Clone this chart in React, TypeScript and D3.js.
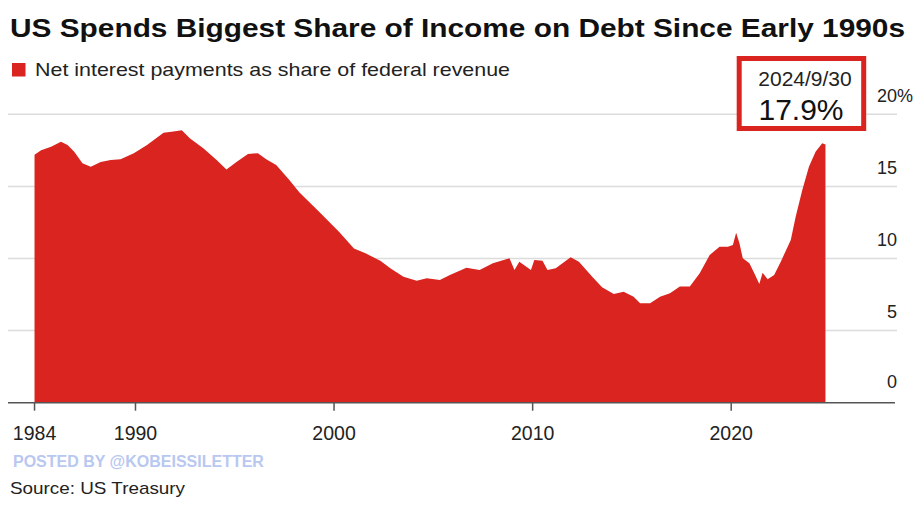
import React from 'react';
import * as d3 from 'd3';

// Net interest payments as share of federal revenue (%)
const months: string[] = [
  '1984-12', '1985-04', '1985-10', '1986-04', '1986-08', '1986-12', '1987-05', '1987-10',
  '1988-04', '1988-10', '1989-04', '1989-12', '1990-08', '1991-06', '1991-12', '1992-05',
  '1992-10', '1993-06', '1994-02', '1994-08', '1995-02', '1995-09', '1996-03', '1996-08',
  '1997-02', '1997-10', '1998-04', '1999-04', '2000-04', '2001-01', '2001-08', '2002-05',
  '2002-11', '2003-07', '2004-03', '2004-09', '2005-05', '2005-11', '2006-09', '2007-05',
  '2008-01', '2008-11', '2009-02', '2009-05', '2009-12', '2010-02', '2010-07', '2010-10',
  '2011-03', '2011-12', '2012-05', '2013-01', '2013-07', '2014-02', '2014-08', '2015-02',
  '2015-06', '2015-12', '2016-06', '2016-12', '2017-06', '2017-12', '2018-06', '2018-12',
  '2019-06', '2019-11', '2020-02', '2020-04', '2020-06', '2020-08', '2020-12', '2021-03',
  '2021-06', '2021-08', '2021-11', '2022-03', '2022-07', '2023-01', '2023-04', '2023-08',
  '2023-12', '2024-04', '2024-08', '2024-09',
];

const shares: number[] = [
  17.2, 17.5, 17.75, 18.1, 17.87, 17.4, 16.6, 16.37,
  16.7, 16.83, 16.88, 17.3, 17.87, 18.72, 18.8, 18.9,
  18.33, 17.64, 16.83, 16.18, 16.7, 17.25, 17.3, 16.88,
  16.48, 15.44, 14.6, 13.25, 11.86, 10.7, 10.36, 9.85,
  9.32, 8.74, 8.46, 8.63, 8.51, 8.86, 9.36, 9.2,
  9.67, 10.01, 9.2, 9.78, 9.2, 9.9, 9.85, 9.2,
  9.32, 10.08, 9.78, 8.74, 8.0, 7.54, 7.7, 7.35,
  6.89, 6.89, 7.35, 7.59, 8.05, 8.05, 8.97, 10.24,
  10.82, 10.82, 10.94, 11.79, 11.05, 10.01, 9.67, 8.97,
  8.23, 9.02, 8.56, 8.86, 9.78, 11.28, 12.9, 14.75,
  16.37, 17.41, 17.99, 17.9,
];

const yTicks: number[] = [0, 5, 10, 15, 20];
const xTickYears: string[] = ['1984', '1990', '2000', '2010', '2020'];

const title = 'US Spends Biggest Share of Income on Debt Since Early 1990s';
const legendLabel = 'Net interest payments as share of federal revenue';
const lastLabelDate = '2024/9/30';
const lastLabelValue = '17.9%';

const RED = '#d9241f';

export default function App() {
  const width = 919;
  const height = 505;
  const parse = d3.timeParse('%Y-%m')!;
  const data = months.map((m, i) => ({ date: parse(m) as Date, value: shares[i] }));
  // last point is the end of September
  data[data.length - 1].date = new Date(2024, 8, 30);

  const x = d3.scaleTime()
    .domain([new Date(1983, 7, 1), new Date(2028, 3, 1)])
    .range([8, 895]);
  const y = d3.scaleLinear().domain([0, 20]).range([402.7, 114.3]);

  const area = d3.area<{ date: Date; value: number }>()
    .x(d => x(d.date))
    .y0(y(0))
    .y1(d => y(d.value));

  // first tick sits on the start of the series, others on Jan 1
  const tickDates = xTickYears.map((yr, i) => (i === 0 ? data[0].date : new Date(+yr, 0, 1)));

  const font = '"Liberation Sans", Arial, Helvetica, sans-serif';

  return (
    <svg width={width} height={height} style={{ position: 'absolute', left: 0, top: 0, background: '#fff' }}
      fontFamily={font}>
      <rect width={width} height={height} fill="#fff" />
      <text x={10} y={36.5} fontSize={25.5} fontWeight="bold" fill="#111"
        textLength={895} lengthAdjust="spacingAndGlyphs">{title}</text>

      <rect x={12} y={63} width={13.5} height={13.5} fill={RED} />
      <text x={35} y={76} fontSize={18.5} fill="#222"
        textLength={475} lengthAdjust="spacingAndGlyphs">{legendLabel}</text>

      {yTicks.filter(t => t > 0).map(t => (
        <line key={t} x1={8} x2={897} y1={y(t)} y2={y(t)} stroke="#dcdcdc" strokeWidth={1.5} />
      ))}

      <path d={area(data) || ''} fill={RED} />

      <line x1={8} x2={895} y1={y(0)} y2={y(0)} stroke="#555" strokeWidth={1.5} />
      {tickDates.map((d, i) => (
        <g key={xTickYears[i]} transform={`translate(${x(d)},0)`}>
          <line y1={y(0)} y2={y(0) + 8} stroke="#555" strokeWidth={1.5} />
          <text y={440} textAnchor="middle" fontSize={19.5} fill="#222">{xTickYears[i]}</text>
        </g>
      ))}

      {yTicks.map(t => (
        <g key={t}>
          <text x={897} y={y(t) - (t === 0 ? 14.5 : 12.7)} textAnchor="end" fontSize={18} fill="#222">{t}</text>
          {t === 20 && (
            <text x={897} y={y(t) - 12.7} fontSize={18} fill="#222">%</text>
          )}
        </g>
      ))}

      <rect x={739.2} y={58.5} width={124.5} height={70} fill="#fff" stroke={RED} strokeWidth={5} />
      <text x={805} y={86} textAnchor="middle" fontSize={21} fill="#222">{lastLabelDate}</text>
      <text x={801} y={120} textAnchor="middle" fontSize={30} fill="#111">{lastLabelValue}</text>

      <text x={13} y={467} fontSize={16} fontWeight="bold" fill="#b9c8f0">POSTED BY @KOBEISSILETTER</text>
      <text x={10} y={494} fontSize={17} fill="#222" textLength={175}
        lengthAdjust="spacingAndGlyphs">Source: US Treasury</text>
    </svg>
  );
}
